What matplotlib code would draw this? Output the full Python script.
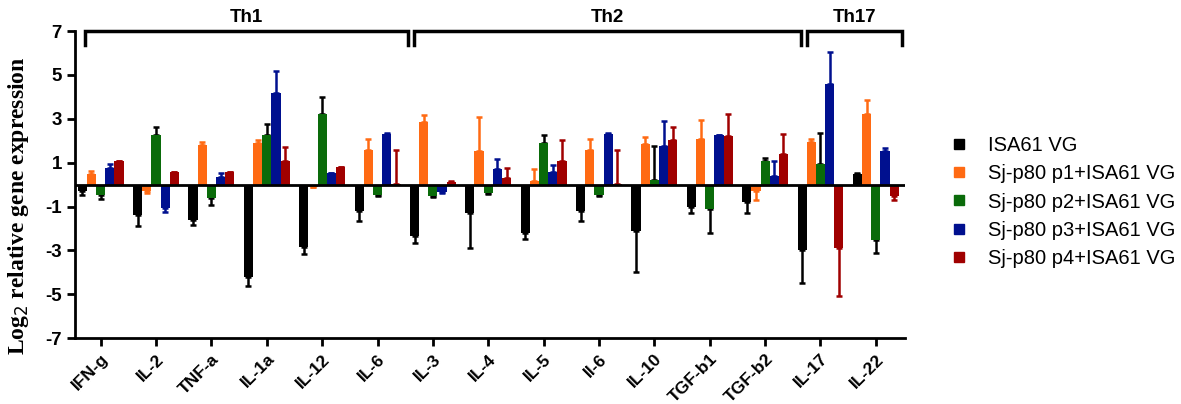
import numpy as np
import matplotlib.pyplot as plt
from matplotlib.lines import Line2D

# data
genes = ["IFN-g", "IL-2", "TNF-a", "IL-1a", "IL-12", "IL-6", "IL-3", "IL-4",
         "IL-5", "Il-6", "IL-10", "TGF-b1", "TGF-b2", "IL-17", "IL-22"]
groups = ["ISA61 VG", "Sj-p80 p1+ISA61 VG", "Sj-p80 p2+ISA61 VG",
          "Sj-p80 p3+ISA61 VG", "Sj-p80 p4+ISA61 VG"]

isa61 = [-0.30, -1.40, -1.63, -4.20, -2.86, -1.20, -2.36, -1.29, -2.20, -1.20, -2.13, -1.02, -0.79, -2.96, 0.47]
isa61_err = [0.19, 0.50, 0.22, 0.43, 0.32, 0.47, 0.29, 1.60, 0.30, 0.47, 1.85, 0.27, 0.49, 1.51, 0.08]

p1 = [0.50, -0.30, 1.79, 1.90, -0.10, 1.60, 2.86, 1.53, 0.15, 1.60, 1.84, 2.10, -0.31, 1.94, 3.20]
p1_err = [0.12, 0.08, 0.16, 0.12, 0.03, 0.47, 0.33, 1.55, 0.58, 0.47, 0.33, 0.86, 0.41, 0.16, 0.67]

p2 = [-0.46, 2.25, -0.60, 2.28, 3.24, -0.46, -0.53, -0.37, 1.91, -0.46, 0.20, -1.13, 1.06, 0.96, -2.54]
p2_err = [0.18, 0.38, 0.34, 0.47, 0.76, 0.04, 0.02, 0.07, 0.34, 0.04, 1.56, 1.06, 0.17, 1.39, 0.58]

p3 = [0.78, -1.05, 0.35, 4.18, 0.53, 2.33, -0.34, 0.70, 0.57, 2.33, 1.76, 2.25, 0.38, 4.57, 1.53]
p3_err = [0.18, 0.20, 0.18, 1.00, 0.02, 0.02, 0.03, 0.45, 0.34, 0.02, 1.13, 0.02, 0.68, 1.48, 0.12]

p4 = [1.08, 0.58, 0.58, 1.08, 0.80, 0.05, 0.12, 0.30, 1.08, 0.05, 2.05, 2.20, 1.41, -2.89, -0.53]
p4_err = [0.02, 0.0, 0.0, 0.62, 0.0, 1.51, 0.03, 0.48, 0.94, 1.51, 0.58, 1.04, 0.91, 2.19, 0.19]

th_labels = ["Th1", "Th2", "Th17"]
th_spans = [(-0.28, 5.55), (5.65, 12.64), (12.75, 14.48)]

colors = ["#000000", "#FF6A13", "#0A6B0A", "#00108F", "#A00000"]
err_colors = ["#000000", "#FF6A13", "#000000", "#00108F", "#A00000"]

series = [isa61, p1, p2, p3, p4]
errors = [isa61_err, p1_err, p2_err, p3_err, p4_err]

plt.rcParams["font.family"] = ["Liberation Sans", "DejaVu Sans"]
plt.rcParams["axes.unicode_minus"] = False

fig = plt.figure(figsize=(11.81, 4.04), dpi=100)
ax = fig.add_axes([0.0635, 0.163, 0.7025, 0.76])

x = np.arange(len(genes))
w = 0.166
for k in range(5):
    vals = np.array(series[k])
    err = np.array(errors[k])
    xpos = x + (k - 2) * w
    ax.bar(xpos, vals, width=w, color=colors[k], label=groups[k], zorder=3)
    lower = np.where(vals < 0, err, 0)
    upper = np.where(vals >= 0, err, 0)
    ax.errorbar(xpos, vals, yerr=[lower, upper], fmt="none", ecolor=err_colors[k],
                elinewidth=1.8, capsize=2.5, capthick=1.8, zorder=2)

ax.axhline(0, color="black", lw=2, zorder=4)

ax.set_xlim(-0.464, 14.52)
ax.set_ylim(-7, 7)
ax.set_yticks([-7, -5, -3, -1, 1, 3, 5, 7])
ax.set_xticks(x)
ax.set_xticklabels(genes, rotation=45, ha="right", rotation_mode="anchor",
                   fontsize=12.5, fontweight="bold")
for lab in ax.get_yticklabels():
    lab.set_fontsize(13.5)
    lab.set_fontweight("bold")

for s in ["top", "right"]:
    ax.spines[s].set_visible(False)
for s in ["left", "bottom"]:
    ax.spines[s].set_linewidth(2)
ax.tick_params(axis="both", width=2, length=6, direction="out")

ax.set_ylabel("Log$_2$ relative gene expression", family="Liberation Serif",
              fontweight="bold", fontsize=17)
ax.yaxis.set_label_coords(-0.053, 0.43)

# brackets for Th groups
for name, (a, b) in zip(th_labels, th_spans):
    ax.plot([a, a, b, b], [6.35, 7, 7, 6.35], color="black", lw=2.5,
            clip_on=False, solid_joinstyle="miter")
    ax.text((a + b) / 2, 7.25, name, ha="center", va="bottom",
            fontsize=13.5, fontweight="bold")

handles = [Line2D([], [], marker="s", ls="none", color=c, markersize=7) for c in colors]
fig.legend(handles, groups, loc="center left", bbox_to_anchor=(0.788, 0.5),
           frameon=False, fontsize=14.5, handlelength=1.0, handletextpad=0.95,
           labelspacing=0.45)

fig.savefig("out.png", dpi=100)
